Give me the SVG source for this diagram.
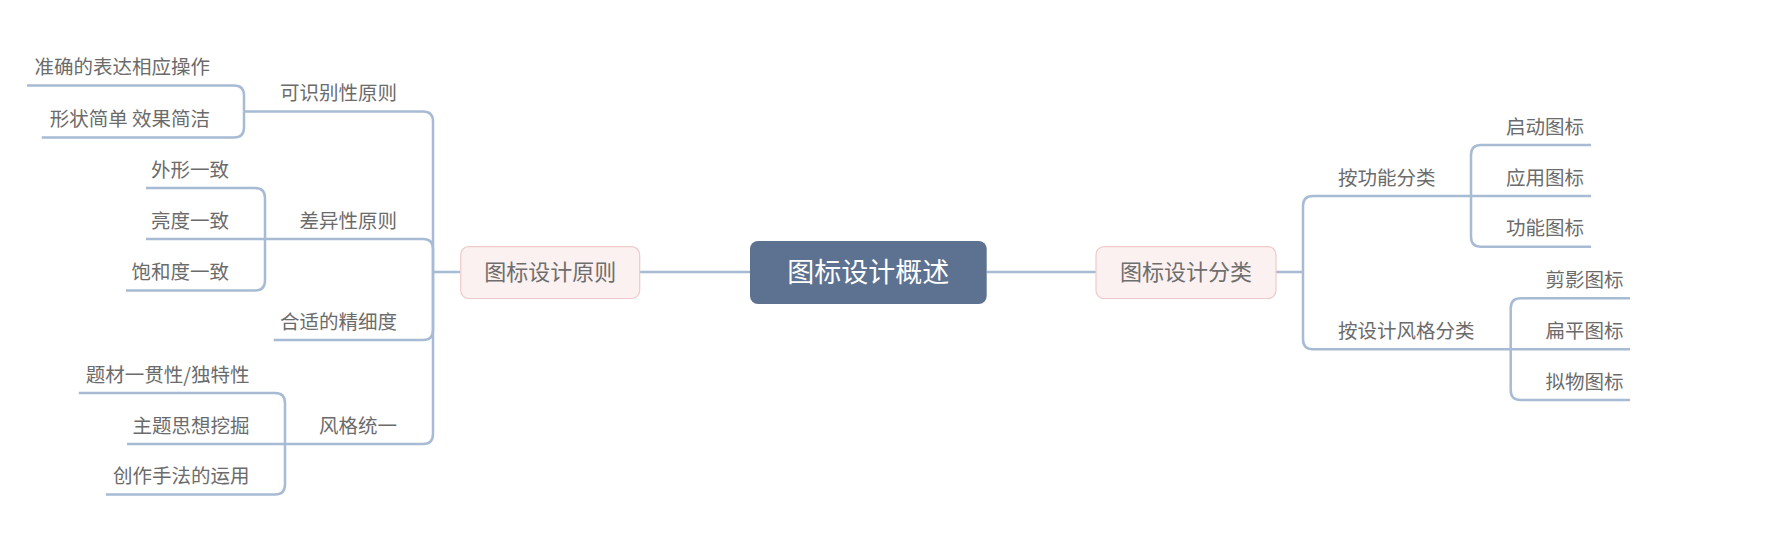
<svg xmlns="http://www.w3.org/2000/svg" width="1766" height="540" viewBox="0 0 1766 540">
<style>
.ln{fill:none;stroke:#a8bbd4;stroke-width:2.5;stroke-linecap:butt}
.t{font-family:"Noto Sans CJK SC","Noto Sans",sans-serif;font-size:19.5px;fill:#6b6b6b}
.e{text-anchor:end}
.pk{fill:#fbf1f0;stroke:#efcaca;stroke-width:1.2}
.pt{font-family:"Noto Sans CJK SC","Noto Sans",sans-serif;font-size:22px;fill:#6e6e6e;text-anchor:middle}
.ct{font-family:"Noto Sans CJK SC","Noto Sans",sans-serif;font-size:27px;fill:#ffffff;text-anchor:middle}
</style>
<rect width="1766" height="540" fill="#ffffff"/>
<g id="connectors">
<path class="ln" d="M639.7,272 H750 M986.7,272 H1096 M433,272 H460.7 M1276,272 H1303"/>
<path class="ln" d="M433,272 V121.5 Q433,111.5 423,111.5 H244"/>
<path class="ln" d="M433,272 V249 Q433,239 423,239 H265"/>
<path class="ln" d="M433,272 V330 Q433,340 423,340 H273.7"/>
<path class="ln" d="M433,272 V434 Q433,444 423,444 H285"/>
<path class="ln" d="M244,111.5 V95.6 Q244,85.6 234,85.6 H27"/>
<path class="ln" d="M244,111.5 V127.4 Q244,137.4 234,137.4 H41.7"/>
<path class="ln" d="M265,239 V198 Q265,188 255,188 H146"/>
<path class="ln" d="M265,239 H146"/>
<path class="ln" d="M265,239 V280.6 Q265,290.6 255,290.6 H126"/>
<path class="ln" d="M285,444 V403 Q285,393 275,393 H78.8"/>
<path class="ln" d="M285,444 H127"/>
<path class="ln" d="M285,444 V484.4 Q285,494.4 275,494.4 H105.9"/>
<path class="ln" d="M1303,272 V206 Q1303,196 1313,196 H1471"/>
<path class="ln" d="M1303,272 V339.3 Q1303,349.3 1313,349.3 H1510.7"/>
<path class="ln" d="M1471,196 V155 Q1471,145 1481,145 H1591"/>
<path class="ln" d="M1471,196 H1591"/>
<path class="ln" d="M1471,196 V236.7 Q1471,246.7 1481,246.7 H1591"/>
<path class="ln" d="M1510.7,349.3 V308.3 Q1510.7,298.3 1520.7,298.3 H1630"/>
<path class="ln" d="M1510.7,349.3 H1630"/>
<path class="ln" d="M1510.7,349.3 V390 Q1510.7,400 1520.7,400 H1630"/>
</g>
<g id="center">
<rect x="750" y="241" width="236.7" height="63" rx="8" fill="#5d7290"/>
<text class="ct" x="868.3" y="282.3">图标设计概述</text>
</g>
<g id="principles">
<rect class="pk" x="460.7" y="246.7" width="179" height="51.8" rx="8"/>
<text class="pt" x="550.2" y="280">图标设计原则</text>
</g>
<g id="categories">
<rect class="pk" x="1096" y="246.7" width="180" height="51.8" rx="8"/>
<text class="pt" x="1186" y="280">图标设计分类</text>
</g>
<g id="recognizable"><text class="t e" x="397" y="100">可识别性原则</text></g>
<g id="difference"><text class="t e" x="397" y="227.5">差异性原则</text></g>
<g id="detail"><text class="t e" x="397" y="328.5">合适的精细度</text></g>
<g id="style"><text class="t e" x="397" y="432.5">风格统一</text></g>
<g id="r1"><text class="t e" x="210" y="74">准确的表达相应操作</text></g>
<g id="r2"><text class="t e" x="210" y="126">形状简单 效果简洁</text></g>
<g id="d1"><text class="t e" x="229" y="176.5">外形一致</text></g>
<g id="d2"><text class="t e" x="229" y="227.5">亮度一致</text></g>
<g id="d3"><text class="t e" x="229" y="279">饱和度一致</text></g>
<g id="s1"><text class="t e" x="249.5" y="381.5">题材一贯性/独特性</text></g>
<g id="s2"><text class="t e" x="249.5" y="432.5">主题思想挖掘</text></g>
<g id="s3"><text class="t e" x="249.5" y="483">创作手法的运用</text></g>
<g id="byfunc"><text class="t" x="1338" y="184.5">按功能分类</text></g>
<g id="bystyle"><text class="t" x="1338" y="337.8">按设计风格分类</text></g>
<g id="f1"><text class="t" x="1506" y="133.5">启动图标</text></g>
<g id="f2"><text class="t" x="1506" y="184.5">应用图标</text></g>
<g id="f3"><text class="t" x="1506" y="235">功能图标</text></g>
<g id="st1"><text class="t" x="1545.5" y="287">剪影图标</text></g>
<g id="st2"><text class="t" x="1545.5" y="338">扁平图标</text></g>
<g id="st3"><text class="t" x="1545.5" y="388.5">拟物图标</text></g>
</svg>
